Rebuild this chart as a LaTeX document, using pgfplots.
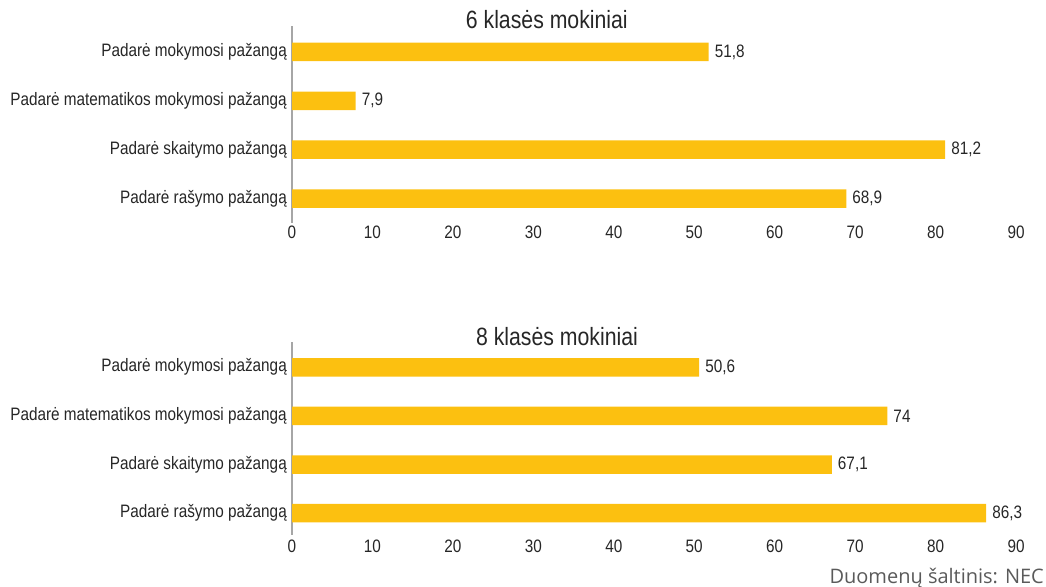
\documentclass[border=0pt]{standalone}
\usepackage{fontspec}
\setmainfont{Liberation Sans}[FakeStretch=0.85]
\newfontfamily\srcfont{Open Sans}
\usepackage{pgfplots}
\pgfplotsset{compat=1.18}
\definecolor{barc}{RGB}{252,192,16}
\definecolor{txt}{RGB}{38,38,38}
\definecolor{axl}{RGB}{166,166,166}
\definecolor{srcc}{RGB}{90,90,90}
\pgfplotsset{mystyle/.style={
  xbar, scale only axis, width=724pt,
  xmin=0, xmax=90, xtick={0,10,...,90},
  ytick={0,1,2,3},
  yticklabels={Padarė rašymo pažangą, Padarė skaitymo pažangą, Padarė matematikos mokymosi pažangą, Padarė mokymosi pažangą},
  axis lines*=left,
  x axis line style={draw=none},
  y axis line style={draw=axl, line width=1.3pt},
  major tick length=0pt,
  tick style={draw=none},
  /pgf/number format/.cd, use comma, assume math mode=true, 1000 sep={},
  /pgfplots/.cd,
  ticklabel style={font=\fontsize{18}{21}\selectfont, text=txt, inner sep=0pt},
  yticklabel shift=5pt,
  bar width=18.5pt, bar shift=0pt,
  nodes near coords, nodes near coords align={horizontal},
  every node near coord/.append style={font=\fontsize{18}{21}\selectfont, text=txt, inner sep=0pt, xshift=6pt},
  every axis title shift=0pt,
  title style={font=\fontsize{25}{28}\selectfont, text=txt, anchor=base, inner sep=0pt},
}}
\begin{document}
\begin{tikzpicture}
\useasboundingbox (0,0) rectangle (1046pt,586pt);
\begin{axis}[mystyle, at={(292pt,363pt)}, anchor=south west, height=197pt,
  ymin=-0.50, ymax=3.53, xticklabel shift=3pt,
  title={6 klasės mokiniai}, title style={at={(axis description cs:0.352,1)}, yshift=-3pt}]
\addplot[fill=barc, draw=none] coordinates {(68.9,0) (81.2,1) (7.9,2) (51.8,3)};
\end{axis}
\begin{axis}[mystyle, at={(292pt,51pt)}, anchor=south west, height=193pt,
  ymin=-0.45, ymax=3.52, xticklabel shift=4.5pt,
  title={8 klasės mokiniai}, title style={at={(axis description cs:0.366,1)}, yshift=-4pt}]
\addplot[fill=barc, draw=none] coordinates {(86.3,0) (67.1,1) (74,2) (50.6,3)};
\end{axis}
\node[anchor=base east, font=\srcfont\fontsize{20}{22}\selectfont, text=srcc, inner sep=0pt] at (1044pt,3pt) {Duomenų šaltinis: NEC};
\end{tikzpicture}
\end{document}
